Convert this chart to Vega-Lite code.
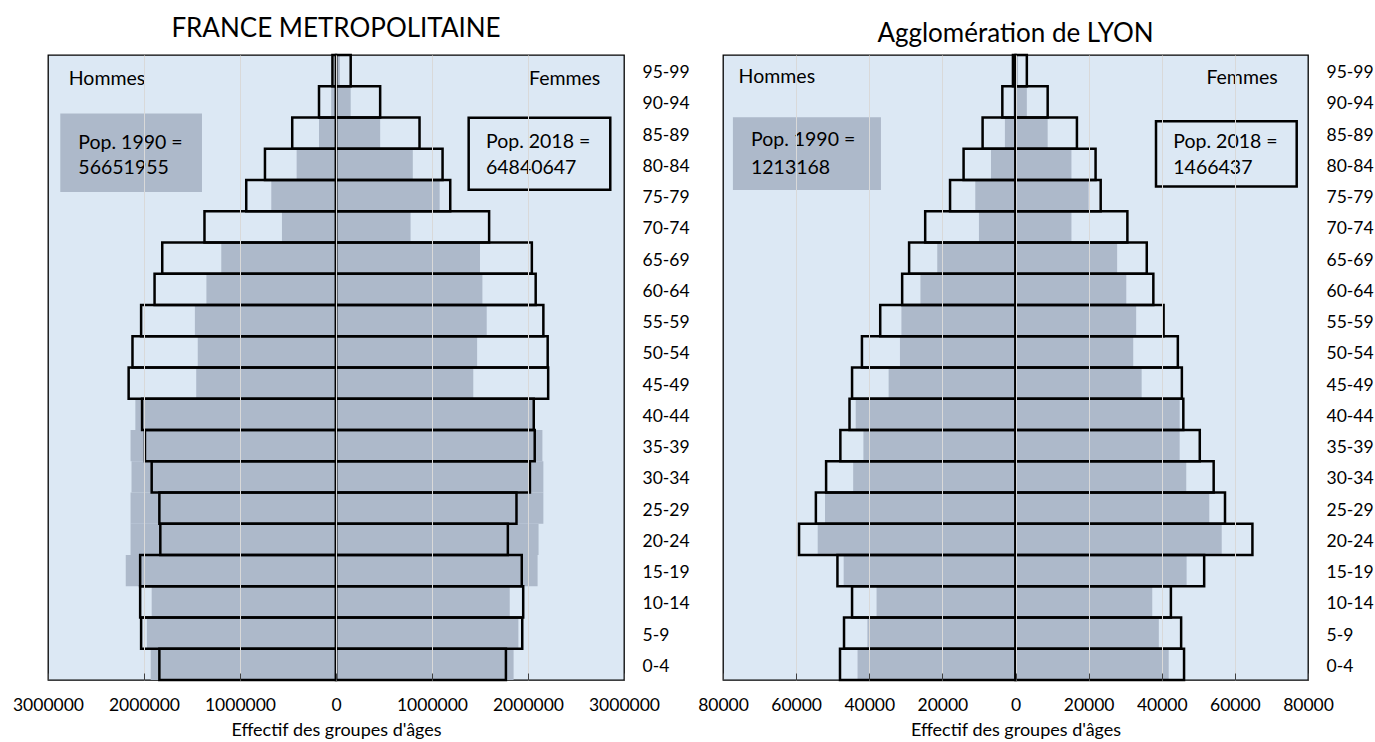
{
  "$schema": "https://vega.github.io/schema/vega-lite/v6.json",
  "padding": {"left": 11, "top": 15, "right": 0, "bottom": 0},
  "background": "white",
  "spacing": 6,
  "config": {
    "font": "Lato",
    "view": {"stroke": "black", "strokeWidth": 1.3, "fill": "#dce8f4"},
    "axis": {"labelFont": "Lato", "labelFontSize": 17.5, "labelColor": "black", "titleFont": "Lato", "titleFontSize": 18, "titleFontWeight": "normal", "titleColor": "black", "labelFlush": false, "labelOverlap": false, "labelBound": false},
    "title": {"font": "Lato", "fontSize": 26, "fontWeight": "normal", "color": "black", "anchor": "middle"}
  },
  "datasets": {
    "france": [
      {"age": "0-4", "debut": 0, "fin": 5, "sexe": "Hommes", "annee": 1990, "effectif": -1930000},
      {"age": "0-4", "debut": 0, "fin": 5, "sexe": "Femmes", "annee": 1990, "effectif": 1850000},
      {"age": "0-4", "debut": 0, "fin": 5, "sexe": "Hommes", "annee": 2018, "effectif": -1840000},
      {"age": "0-4", "debut": 0, "fin": 5, "sexe": "Femmes", "annee": 2018, "effectif": 1770000},
      {"age": "5-9", "debut": 5, "fin": 10, "sexe": "Hommes", "annee": 1990, "effectif": -1970000},
      {"age": "5-9", "debut": 5, "fin": 10, "sexe": "Femmes", "annee": 1990, "effectif": 1900000},
      {"age": "5-9", "debut": 5, "fin": 10, "sexe": "Hommes", "annee": 2018, "effectif": -2030000},
      {"age": "5-9", "debut": 5, "fin": 10, "sexe": "Femmes", "annee": 2018, "effectif": 1940000},
      {"age": "10-14", "debut": 10, "fin": 15, "sexe": "Hommes", "annee": 1990, "effectif": -1920000},
      {"age": "10-14", "debut": 10, "fin": 15, "sexe": "Femmes", "annee": 1990, "effectif": 1810000},
      {"age": "10-14", "debut": 10, "fin": 15, "sexe": "Hommes", "annee": 2018, "effectif": -2040000},
      {"age": "10-14", "debut": 10, "fin": 15, "sexe": "Femmes", "annee": 2018, "effectif": 1950000},
      {"age": "15-19", "debut": 15, "fin": 20, "sexe": "Hommes", "annee": 1990, "effectif": -2190000},
      {"age": "15-19", "debut": 15, "fin": 20, "sexe": "Femmes", "annee": 1990, "effectif": 2100000},
      {"age": "15-19", "debut": 15, "fin": 20, "sexe": "Hommes", "annee": 2018, "effectif": -2040000},
      {"age": "15-19", "debut": 15, "fin": 20, "sexe": "Femmes", "annee": 2018, "effectif": 1935000},
      {"age": "20-24", "debut": 20, "fin": 25, "sexe": "Hommes", "annee": 1990, "effectif": -2140000},
      {"age": "20-24", "debut": 20, "fin": 25, "sexe": "Femmes", "annee": 1990, "effectif": 2110000},
      {"age": "20-24", "debut": 20, "fin": 25, "sexe": "Hommes", "annee": 2018, "effectif": -1830000},
      {"age": "20-24", "debut": 20, "fin": 25, "sexe": "Femmes", "annee": 2018, "effectif": 1790000},
      {"age": "25-29", "debut": 25, "fin": 30, "sexe": "Hommes", "annee": 1990, "effectif": -2140000},
      {"age": "25-29", "debut": 25, "fin": 30, "sexe": "Femmes", "annee": 1990, "effectif": 2160000},
      {"age": "25-29", "debut": 25, "fin": 30, "sexe": "Hommes", "annee": 2018, "effectif": -1840000},
      {"age": "25-29", "debut": 25, "fin": 30, "sexe": "Femmes", "annee": 2018, "effectif": 1880000},
      {"age": "30-34", "debut": 30, "fin": 35, "sexe": "Hommes", "annee": 1990, "effectif": -2130000},
      {"age": "30-34", "debut": 30, "fin": 35, "sexe": "Femmes", "annee": 1990, "effectif": 2160000},
      {"age": "30-34", "debut": 30, "fin": 35, "sexe": "Hommes", "annee": 2018, "effectif": -1920000},
      {"age": "30-34", "debut": 30, "fin": 35, "sexe": "Femmes", "annee": 2018, "effectif": 2020000},
      {"age": "35-39", "debut": 35, "fin": 40, "sexe": "Hommes", "annee": 1990, "effectif": -2140000},
      {"age": "35-39", "debut": 35, "fin": 40, "sexe": "Femmes", "annee": 1990, "effectif": 2150000},
      {"age": "35-39", "debut": 35, "fin": 40, "sexe": "Hommes", "annee": 2018, "effectif": -1990000},
      {"age": "35-39", "debut": 35, "fin": 40, "sexe": "Femmes", "annee": 2018, "effectif": 2070000},
      {"age": "40-44", "debut": 40, "fin": 45, "sexe": "Hommes", "annee": 1990, "effectif": -2090000},
      {"age": "40-44", "debut": 40, "fin": 45, "sexe": "Femmes", "annee": 1990, "effectif": 2055000},
      {"age": "40-44", "debut": 40, "fin": 45, "sexe": "Hommes", "annee": 2018, "effectif": -2020000},
      {"age": "40-44", "debut": 40, "fin": 45, "sexe": "Femmes", "annee": 2018, "effectif": 2060000},
      {"age": "45-49", "debut": 45, "fin": 50, "sexe": "Hommes", "annee": 1990, "effectif": -1456000},
      {"age": "45-49", "debut": 45, "fin": 50, "sexe": "Femmes", "annee": 1990, "effectif": 1430000},
      {"age": "45-49", "debut": 45, "fin": 50, "sexe": "Hommes", "annee": 2018, "effectif": -2160000},
      {"age": "45-49", "debut": 45, "fin": 50, "sexe": "Femmes", "annee": 2018, "effectif": 2210000},
      {"age": "50-54", "debut": 50, "fin": 55, "sexe": "Hommes", "annee": 1990, "effectif": -1440000},
      {"age": "50-54", "debut": 50, "fin": 55, "sexe": "Femmes", "annee": 1990, "effectif": 1470000},
      {"age": "50-54", "debut": 50, "fin": 55, "sexe": "Hommes", "annee": 2018, "effectif": -2120000},
      {"age": "50-54", "debut": 50, "fin": 55, "sexe": "Femmes", "annee": 2018, "effectif": 2205000},
      {"age": "55-59", "debut": 55, "fin": 60, "sexe": "Hommes", "annee": 1990, "effectif": -1470000},
      {"age": "55-59", "debut": 55, "fin": 60, "sexe": "Femmes", "annee": 1990, "effectif": 1570000},
      {"age": "55-59", "debut": 55, "fin": 60, "sexe": "Hommes", "annee": 2018, "effectif": -2030000},
      {"age": "55-59", "debut": 55, "fin": 60, "sexe": "Femmes", "annee": 2018, "effectif": 2160000},
      {"age": "60-64", "debut": 60, "fin": 65, "sexe": "Hommes", "annee": 1990, "effectif": -1350000},
      {"age": "60-64", "debut": 60, "fin": 65, "sexe": "Femmes", "annee": 1990, "effectif": 1525000},
      {"age": "60-64", "debut": 60, "fin": 65, "sexe": "Hommes", "annee": 2018, "effectif": -1890000},
      {"age": "60-64", "debut": 60, "fin": 65, "sexe": "Femmes", "annee": 2018, "effectif": 2080000},
      {"age": "65-69", "debut": 65, "fin": 70, "sexe": "Hommes", "annee": 1990, "effectif": -1195000},
      {"age": "65-69", "debut": 65, "fin": 70, "sexe": "Femmes", "annee": 1990, "effectif": 1500000},
      {"age": "65-69", "debut": 65, "fin": 70, "sexe": "Hommes", "annee": 2018, "effectif": -1810000},
      {"age": "65-69", "debut": 65, "fin": 70, "sexe": "Femmes", "annee": 2018, "effectif": 2040000},
      {"age": "70-74", "debut": 70, "fin": 75, "sexe": "Hommes", "annee": 1990, "effectif": -563000},
      {"age": "70-74", "debut": 70, "fin": 75, "sexe": "Femmes", "annee": 1990, "effectif": 777000},
      {"age": "70-74", "debut": 70, "fin": 75, "sexe": "Hommes", "annee": 2018, "effectif": -1370000},
      {"age": "70-74", "debut": 70, "fin": 75, "sexe": "Femmes", "annee": 2018, "effectif": 1595000},
      {"age": "75-79", "debut": 75, "fin": 80, "sexe": "Hommes", "annee": 1990, "effectif": -674000},
      {"age": "75-79", "debut": 75, "fin": 80, "sexe": "Femmes", "annee": 1990, "effectif": 1080000},
      {"age": "75-79", "debut": 75, "fin": 80, "sexe": "Hommes", "annee": 2018, "effectif": -935000},
      {"age": "75-79", "debut": 75, "fin": 80, "sexe": "Femmes", "annee": 2018, "effectif": 1190000},
      {"age": "80-84", "debut": 80, "fin": 85, "sexe": "Hommes", "annee": 1990, "effectif": -410000},
      {"age": "80-84", "debut": 80, "fin": 85, "sexe": "Femmes", "annee": 1990, "effectif": 800000},
      {"age": "80-84", "debut": 80, "fin": 85, "sexe": "Hommes", "annee": 2018, "effectif": -740000},
      {"age": "80-84", "debut": 80, "fin": 85, "sexe": "Femmes", "annee": 2018, "effectif": 1110000},
      {"age": "85-89", "debut": 85, "fin": 90, "sexe": "Hommes", "annee": 1990, "effectif": -177000},
      {"age": "85-89", "debut": 85, "fin": 90, "sexe": "Femmes", "annee": 1990, "effectif": 460000},
      {"age": "85-89", "debut": 85, "fin": 90, "sexe": "Hommes", "annee": 2018, "effectif": -456000},
      {"age": "85-89", "debut": 85, "fin": 90, "sexe": "Femmes", "annee": 2018, "effectif": 870000},
      {"age": "90-94", "debut": 90, "fin": 95, "sexe": "Hommes", "annee": 1990, "effectif": -50000},
      {"age": "90-94", "debut": 90, "fin": 95, "sexe": "Femmes", "annee": 1990, "effectif": 153000},
      {"age": "90-94", "debut": 90, "fin": 95, "sexe": "Hommes", "annee": 2018, "effectif": -177000},
      {"age": "90-94", "debut": 90, "fin": 95, "sexe": "Femmes", "annee": 2018, "effectif": 460000},
      {"age": "95-99", "debut": 95, "fin": 100, "sexe": "Hommes", "annee": 1990, "effectif": -10000},
      {"age": "95-99", "debut": 95, "fin": 100, "sexe": "Femmes", "annee": 1990, "effectif": 40000},
      {"age": "95-99", "debut": 95, "fin": 100, "sexe": "Hommes", "annee": 2018, "effectif": -37000},
      {"age": "95-99", "debut": 95, "fin": 100, "sexe": "Femmes", "annee": 2018, "effectif": 153000}
    ],
    "lyon": [
      {"age": "0-4", "debut": 0, "fin": 5, "sexe": "Hommes", "annee": 1990, "effectif": -43200},
      {"age": "0-4", "debut": 0, "fin": 5, "sexe": "Femmes", "annee": 1990, "effectif": 41900},
      {"age": "0-4", "debut": 0, "fin": 5, "sexe": "Hommes", "annee": 2018, "effectif": -48000},
      {"age": "0-4", "debut": 0, "fin": 5, "sexe": "Femmes", "annee": 2018, "effectif": 46100},
      {"age": "5-9", "debut": 5, "fin": 10, "sexe": "Hommes", "annee": 1990, "effectif": -40500},
      {"age": "5-9", "debut": 5, "fin": 10, "sexe": "Femmes", "annee": 1990, "effectif": 39200},
      {"age": "5-9", "debut": 5, "fin": 10, "sexe": "Hommes", "annee": 2018, "effectif": -46900},
      {"age": "5-9", "debut": 5, "fin": 10, "sexe": "Femmes", "annee": 2018, "effectif": 45300},
      {"age": "10-14", "debut": 10, "fin": 15, "sexe": "Hommes", "annee": 1990, "effectif": -38000},
      {"age": "10-14", "debut": 10, "fin": 15, "sexe": "Femmes", "annee": 1990, "effectif": 37400},
      {"age": "10-14", "debut": 10, "fin": 15, "sexe": "Hommes", "annee": 2018, "effectif": -44700},
      {"age": "10-14", "debut": 10, "fin": 15, "sexe": "Femmes", "annee": 2018, "effectif": 42500},
      {"age": "15-19", "debut": 15, "fin": 20, "sexe": "Hommes", "annee": 1990, "effectif": -47000},
      {"age": "15-19", "debut": 15, "fin": 20, "sexe": "Femmes", "annee": 1990, "effectif": 46800},
      {"age": "15-19", "debut": 15, "fin": 20, "sexe": "Hommes", "annee": 2018, "effectif": -48700},
      {"age": "15-19", "debut": 15, "fin": 20, "sexe": "Femmes", "annee": 2018, "effectif": 51600},
      {"age": "20-24", "debut": 20, "fin": 25, "sexe": "Hommes", "annee": 1990, "effectif": -54100},
      {"age": "20-24", "debut": 20, "fin": 25, "sexe": "Femmes", "annee": 1990, "effectif": 56400},
      {"age": "20-24", "debut": 20, "fin": 25, "sexe": "Hommes", "annee": 2018, "effectif": -59200},
      {"age": "20-24", "debut": 20, "fin": 25, "sexe": "Femmes", "annee": 2018, "effectif": 64800},
      {"age": "25-29", "debut": 25, "fin": 30, "sexe": "Hommes", "annee": 1990, "effectif": -52100},
      {"age": "25-29", "debut": 25, "fin": 30, "sexe": "Femmes", "annee": 1990, "effectif": 53000},
      {"age": "25-29", "debut": 25, "fin": 30, "sexe": "Hommes", "annee": 2018, "effectif": -54600},
      {"age": "25-29", "debut": 25, "fin": 30, "sexe": "Femmes", "annee": 2018, "effectif": 57300},
      {"age": "30-34", "debut": 30, "fin": 35, "sexe": "Hommes", "annee": 1990, "effectif": -44400},
      {"age": "30-34", "debut": 30, "fin": 35, "sexe": "Femmes", "annee": 1990, "effectif": 46700},
      {"age": "30-34", "debut": 30, "fin": 35, "sexe": "Hommes", "annee": 2018, "effectif": -51800},
      {"age": "30-34", "debut": 30, "fin": 35, "sexe": "Femmes", "annee": 2018, "effectif": 54200},
      {"age": "35-39", "debut": 35, "fin": 40, "sexe": "Hommes", "annee": 1990, "effectif": -41600},
      {"age": "35-39", "debut": 35, "fin": 40, "sexe": "Femmes", "annee": 1990, "effectif": 44900},
      {"age": "35-39", "debut": 35, "fin": 40, "sexe": "Hommes", "annee": 2018, "effectif": -47900},
      {"age": "35-39", "debut": 35, "fin": 40, "sexe": "Femmes", "annee": 2018, "effectif": 50400},
      {"age": "40-44", "debut": 40, "fin": 45, "sexe": "Hommes", "annee": 1990, "effectif": -43700},
      {"age": "40-44", "debut": 40, "fin": 45, "sexe": "Femmes", "annee": 1990, "effectif": 44900},
      {"age": "40-44", "debut": 40, "fin": 45, "sexe": "Hommes", "annee": 2018, "effectif": -45400},
      {"age": "40-44", "debut": 40, "fin": 45, "sexe": "Femmes", "annee": 2018, "effectif": 45900},
      {"age": "45-49", "debut": 45, "fin": 50, "sexe": "Hommes", "annee": 1990, "effectif": -34700},
      {"age": "45-49", "debut": 45, "fin": 50, "sexe": "Femmes", "annee": 1990, "effectif": 34500},
      {"age": "45-49", "debut": 45, "fin": 50, "sexe": "Hommes", "annee": 2018, "effectif": -44700},
      {"age": "45-49", "debut": 45, "fin": 50, "sexe": "Femmes", "annee": 2018, "effectif": 45500},
      {"age": "50-54", "debut": 50, "fin": 55, "sexe": "Hommes", "annee": 1990, "effectif": -31600},
      {"age": "50-54", "debut": 50, "fin": 55, "sexe": "Femmes", "annee": 1990, "effectif": 32200},
      {"age": "50-54", "debut": 50, "fin": 55, "sexe": "Hommes", "annee": 2018, "effectif": -42000},
      {"age": "50-54", "debut": 50, "fin": 55, "sexe": "Femmes", "annee": 2018, "effectif": 44400},
      {"age": "55-59", "debut": 55, "fin": 60, "sexe": "Hommes", "annee": 1990, "effectif": -31200},
      {"age": "55-59", "debut": 55, "fin": 60, "sexe": "Femmes", "annee": 1990, "effectif": 33000},
      {"age": "55-59", "debut": 55, "fin": 60, "sexe": "Hommes", "annee": 2018, "effectif": -37000},
      {"age": "55-59", "debut": 55, "fin": 60, "sexe": "Femmes", "annee": 2018, "effectif": 40500},
      {"age": "60-64", "debut": 60, "fin": 65, "sexe": "Hommes", "annee": 1990, "effectif": -26000},
      {"age": "60-64", "debut": 60, "fin": 65, "sexe": "Femmes", "annee": 1990, "effectif": 30300},
      {"age": "60-64", "debut": 60, "fin": 65, "sexe": "Hommes", "annee": 2018, "effectif": -31000},
      {"age": "60-64", "debut": 60, "fin": 65, "sexe": "Femmes", "annee": 2018, "effectif": 37700},
      {"age": "65-69", "debut": 65, "fin": 70, "sexe": "Hommes", "annee": 1990, "effectif": -21400},
      {"age": "65-69", "debut": 65, "fin": 70, "sexe": "Femmes", "annee": 1990, "effectif": 27800},
      {"age": "65-69", "debut": 65, "fin": 70, "sexe": "Hommes", "annee": 2018, "effectif": -29100},
      {"age": "65-69", "debut": 65, "fin": 70, "sexe": "Femmes", "annee": 2018, "effectif": 35900},
      {"age": "70-74", "debut": 70, "fin": 75, "sexe": "Hommes", "annee": 1990, "effectif": -10000},
      {"age": "70-74", "debut": 70, "fin": 75, "sexe": "Femmes", "annee": 1990, "effectif": 15300},
      {"age": "70-74", "debut": 70, "fin": 75, "sexe": "Hommes", "annee": 2018, "effectif": -24700},
      {"age": "70-74", "debut": 70, "fin": 75, "sexe": "Femmes", "annee": 2018, "effectif": 30600},
      {"age": "75-79", "debut": 75, "fin": 80, "sexe": "Hommes", "annee": 1990, "effectif": -11000},
      {"age": "75-79", "debut": 75, "fin": 80, "sexe": "Femmes", "annee": 1990, "effectif": 20000},
      {"age": "75-79", "debut": 75, "fin": 80, "sexe": "Hommes", "annee": 2018, "effectif": -17900},
      {"age": "75-79", "debut": 75, "fin": 80, "sexe": "Femmes", "annee": 2018, "effectif": 23300},
      {"age": "80-84", "debut": 80, "fin": 85, "sexe": "Hommes", "annee": 1990, "effectif": -6700},
      {"age": "80-84", "debut": 80, "fin": 85, "sexe": "Femmes", "annee": 1990, "effectif": 15300},
      {"age": "80-84", "debut": 80, "fin": 85, "sexe": "Hommes", "annee": 2018, "effectif": -14200},
      {"age": "80-84", "debut": 80, "fin": 85, "sexe": "Femmes", "annee": 2018, "effectif": 21900},
      {"age": "85-89", "debut": 85, "fin": 90, "sexe": "Hommes", "annee": 1990, "effectif": -2900},
      {"age": "85-89", "debut": 85, "fin": 90, "sexe": "Femmes", "annee": 1990, "effectif": 8800},
      {"age": "85-89", "debut": 85, "fin": 90, "sexe": "Hommes", "annee": 2018, "effectif": -9000},
      {"age": "85-89", "debut": 85, "fin": 90, "sexe": "Femmes", "annee": 2018, "effectif": 16800},
      {"age": "90-94", "debut": 90, "fin": 95, "sexe": "Hommes", "annee": 1990, "effectif": -600},
      {"age": "90-94", "debut": 90, "fin": 95, "sexe": "Femmes", "annee": 1990, "effectif": 3100},
      {"age": "90-94", "debut": 90, "fin": 95, "sexe": "Hommes", "annee": 2018, "effectif": -3600},
      {"age": "90-94", "debut": 90, "fin": 95, "sexe": "Femmes", "annee": 2018, "effectif": 8800},
      {"age": "95-99", "debut": 95, "fin": 100, "sexe": "Hommes", "annee": 1990, "effectif": -150},
      {"age": "95-99", "debut": 95, "fin": 100, "sexe": "Femmes", "annee": 1990, "effectif": 700},
      {"age": "95-99", "debut": 95, "fin": 100, "sexe": "Hommes", "annee": 2018, "effectif": -700},
      {"age": "95-99", "debut": 95, "fin": 100, "sexe": "Femmes", "annee": 2018, "effectif": 3100}
    ],
    "totaux": [
      {"zone": "France", "annee": 1990, "total": 56651955},
      {"zone": "France", "annee": 2018, "total": 64840647},
      {"zone": "Lyon", "annee": 1990, "total": 1213168},
      {"zone": "Lyon", "annee": 2018, "total": 1466437}
    ]
  },
  "hconcat": [
    {
      "width": 576,
      "height": 625,
      "view": {"stroke": "black", "strokeWidth": 1.3, "fill": "#dce8f4"},
      "title": {"text": "FRANCE METROPOLITAINE", "offset": 12},
      "layer": [
        {
          "data": {"name": "france"},
          "transform": [{"filter": "datum.annee == 1990"}],
          "mark": {"type": "rect", "fill": "#adb9ca"},
          "encoding": {
            "x": {"field": "effectif", "type": "quantitative", "scale": {"domain": [-3000000, 3000000], "nice": false, "zero": false},
              "axis": {"values": [-3000000, -2000000, -1000000, 0, 1000000, 2000000, 3000000], "tickCount": 20, "labelExpr": "format(abs(datum.value), 'd')", "grid": true, "gridColor": {"condition": {"test": "abs(datum.value) >= 3000000", "value": "transparent"}, "value": "#d9d9d9"}, "domain": false, "ticks": true, "tickSize": -7, "tickColor": "#404040", "labelPadding": 23, "titlePadding": 8, "labelOverlap": false, "labelFlush": false, "zindex": 1},
              "title": "Effectif des groupes d'âges"},
            "x2": {"datum": 0},
            "y": {"field": "debut", "type": "quantitative", "scale": {"domain": [0, 100], "nice": false, "zero": false},
              "axis": {"orient": "right", "values": [2.5, 7.5, 12.5, 17.5, 22.5, 27.5, 32.5, 37.5, 42.5, 47.5, 52.5, 57.5, 62.5, 67.5, 72.5, 77.5, 82.5, 87.5, 92.5, 97.5], "tickCount": 40, "labelExpr": "floor(datum.value / 5) * 5 + '-' + (floor(datum.value / 5) * 5 + 4)", "grid": false, "domain": false, "ticks": false, "labelPadding": 18, "labelOffset": 2, "labelOverlap": false, "labelFlush": false, "labelSeparation": 0, "title": null}},
            "y2": {"field": "fin"}
          }
        },
        {
          "data": {"name": "france"},
          "transform": [{"filter": "datum.annee == 2018"}],
          "mark": {"type": "rect", "fill": "transparent", "stroke": "black", "strokeWidth": 2.5},
          "encoding": {
            "x": {"field": "effectif", "type": "quantitative"},
            "x2": {"datum": 0},
            "y": {"field": "debut", "type": "quantitative"},
            "y2": {"field": "fin"}
          }
        },
        {
          "data": {"name": "totaux"},
          "transform": [{"filter": "datum.zone == 'France' && datum.annee == 1990"}],
          "mark": {"type": "rect", "fill": "#adb9ca"},
          "encoding": {"x": {"datum": -2872000}, "x2": {"datum": -1396000}, "y": {"datum": 90.65}, "y2": {"datum": 78.07}}
        },
        {
          "data": {"name": "totaux"},
          "transform": [{"filter": "datum.zone == 'France' && datum.annee == 2018"}],
          "mark": {"type": "rect", "fill": "transparent", "stroke": "black", "strokeWidth": 2.5},
          "encoding": {"x": {"datum": 1382000}, "x2": {"datum": 2857000}, "y": {"datum": 89.97}, "y2": {"datum": 78.46}}
        },
        {
          "data": {"name": "totaux"},
          "transform": [{"filter": "datum.zone == 'France' && datum.annee == 1990"}],
          "mark": {"type": "text", "text": "Pop. 1990 =", "align": "left", "baseline": "middle", "fontSize": 19.5, "color": "black"},
          "encoding": {"x": {"datum": -2684000}, "y": {"datum": 85.88}}
        },
        {
          "data": {"name": "totaux"},
          "transform": [{"filter": "datum.zone == 'France' && datum.annee == 1990"}],
          "mark": {"type": "text", "align": "left", "baseline": "middle", "fontSize": 19.5, "color": "black"},
          "encoding": {"x": {"datum": -2684000}, "y": {"datum": 82.0}, "text": {"field": "total", "type": "nominal"}}
        },
        {
          "data": {"name": "totaux"},
          "transform": [{"filter": "datum.zone == 'France' && datum.annee == 2018"}],
          "mark": {"type": "text", "text": "Pop. 2018 =", "align": "left", "baseline": "middle", "fontSize": 19.5, "color": "black"},
          "encoding": {"x": {"datum": 1562000}, "y": {"datum": 86.15}}
        },
        {
          "data": {"name": "totaux"},
          "transform": [{"filter": "datum.zone == 'France' && datum.annee == 2018"}],
          "mark": {"type": "text", "align": "left", "baseline": "middle", "fontSize": 19.5, "color": "black"},
          "encoding": {"x": {"datum": 1562000}, "y": {"datum": 81.9}, "text": {"field": "total", "type": "nominal"}}
        },
        {
          "data": {"values": [{"sexe": "Hommes"}]},
          "mark": {"type": "text", "align": "left", "baseline": "middle", "fontSize": 19.5, "color": "black"},
          "encoding": {"x": {"datum": -2784000}, "y": {"datum": 96.2}, "text": {"field": "sexe", "type": "nominal"}}
        },
        {
          "data": {"values": [{"sexe": "Femmes"}]},
          "mark": {"type": "text", "align": "right", "baseline": "middle", "fontSize": 19.5, "color": "black"},
          "encoding": {"x": {"datum": 2753000}, "y": {"datum": 96.1}, "text": {"field": "sexe", "type": "nominal"}}
        }
      ]
    },
    {
      "width": 585,
      "height": 625,
      "view": {"stroke": "black", "strokeWidth": 1.3, "fill": "#dce8f4"},
      "title": {"text": "Agglomération de LYON", "offset": 12, "dy": 5},
      "layer": [
        {
          "data": {"name": "lyon"},
          "transform": [{"filter": "datum.annee == 1990"}],
          "mark": {"type": "rect", "fill": "#adb9ca"},
          "encoding": {
            "x": {"field": "effectif", "type": "quantitative", "scale": {"domain": [-80000, 80000], "nice": false, "zero": false},
              "axis": {"values": [-80000, -60000, -40000, -20000, 0, 20000, 40000, 60000, 80000], "tickCount": 20, "labelExpr": "format(abs(datum.value), 'd')", "grid": true, "gridColor": {"condition": {"test": "abs(datum.value) >= 80000", "value": "transparent"}, "value": "#d9d9d9"}, "domain": false, "ticks": true, "tickSize": -7, "tickColor": "#404040", "labelPadding": 23, "titlePadding": 8, "labelOverlap": false, "labelFlush": false, "zindex": 1},
              "title": "Effectif des groupes d'âges"},
            "x2": {"datum": 0},
            "y": {"field": "debut", "type": "quantitative", "scale": {"domain": [0, 100], "nice": false, "zero": false},
              "axis": {"orient": "right", "values": [2.5, 7.5, 12.5, 17.5, 22.5, 27.5, 32.5, 37.5, 42.5, 47.5, 52.5, 57.5, 62.5, 67.5, 72.5, 77.5, 82.5, 87.5, 92.5, 97.5], "tickCount": 40, "labelExpr": "floor(datum.value / 5) * 5 + '-' + (floor(datum.value / 5) * 5 + 4)", "grid": false, "domain": false, "ticks": false, "labelPadding": 18, "labelOffset": 2, "labelOverlap": false, "labelFlush": false, "labelSeparation": 0, "title": null}},
            "y2": {"field": "fin"}
          }
        },
        {
          "data": {"name": "lyon"},
          "transform": [{"filter": "datum.annee == 2018"}],
          "mark": {"type": "rect", "fill": "transparent", "stroke": "black", "strokeWidth": 2.5},
          "encoding": {
            "x": {"field": "effectif", "type": "quantitative"},
            "x2": {"datum": 0},
            "y": {"field": "debut", "type": "quantitative"},
            "y2": {"field": "fin"}
          }
        },
        {
          "data": {"name": "totaux"},
          "transform": [{"filter": "datum.zone == 'Lyon' && datum.annee == 1990"}],
          "mark": {"type": "rect", "fill": "#adb9ca"},
          "encoding": {"x": {"datum": -77290}, "x2": {"datum": -36800}, "y": {"datum": 90.06}, "y2": {"datum": 78.4}}
        },
        {
          "data": {"name": "totaux"},
          "transform": [{"filter": "datum.zone == 'Lyon' && datum.annee == 2018"}],
          "mark": {"type": "rect", "fill": "transparent", "stroke": "black", "strokeWidth": 2.5},
          "encoding": {"x": {"datum": 38430}, "x2": {"datum": 76910}, "y": {"datum": 89.4}, "y2": {"datum": 78.96}}
        },
        {
          "data": {"name": "totaux"},
          "transform": [{"filter": "datum.zone == 'Lyon' && datum.annee == 1990"}],
          "mark": {"type": "text", "text": "Pop. 1990 =", "align": "left", "baseline": "middle", "fontSize": 19.5, "color": "black"},
          "encoding": {"x": {"datum": -72350}, "y": {"datum": 86.4}}
        },
        {
          "data": {"name": "totaux"},
          "transform": [{"filter": "datum.zone == 'Lyon' && datum.annee == 1990"}],
          "mark": {"type": "text", "align": "left", "baseline": "middle", "fontSize": 19.5, "color": "black"},
          "encoding": {"x": {"datum": -72350}, "y": {"datum": 81.9}, "text": {"field": "total", "type": "nominal"}}
        },
        {
          "data": {"name": "totaux"},
          "transform": [{"filter": "datum.zone == 'Lyon' && datum.annee == 2018"}],
          "mark": {"type": "text", "text": "Pop. 2018 =", "align": "left", "baseline": "middle", "fontSize": 19.5, "color": "black"},
          "encoding": {"x": {"datum": 43160}, "y": {"datum": 86.06}}
        },
        {
          "data": {"name": "totaux"},
          "transform": [{"filter": "datum.zone == 'Lyon' && datum.annee == 2018"}],
          "mark": {"type": "text", "align": "left", "baseline": "middle", "fontSize": 19.5, "color": "black"},
          "encoding": {"x": {"datum": 43160}, "y": {"datum": 81.9}, "text": {"field": "total", "type": "nominal"}}
        },
        {
          "data": {"values": [{"sexe": "Hommes"}]},
          "mark": {"type": "text", "align": "left", "baseline": "middle", "fontSize": 19.5, "color": "black"},
          "encoding": {"x": {"datum": -75730}, "y": {"datum": 96.5}, "text": {"field": "sexe", "type": "nominal"}}
        },
        {
          "data": {"values": [{"sexe": "Femmes"}]},
          "mark": {"type": "text", "align": "right", "baseline": "middle", "fontSize": 19.5, "color": "black"},
          "encoding": {"x": {"datum": 71710}, "y": {"datum": 96.3}, "text": {"field": "sexe", "type": "nominal"}}
        }
      ]
    }
  ]
}
